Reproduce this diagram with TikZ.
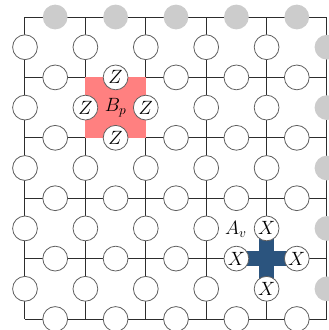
\documentclass[tikz,border=0pt]{standalone}
\usetikzlibrary{calc}
\definecolor{plaqred}{RGB}{255,128,128}
\definecolor{crossblue}{RGB}{43,84,126}
\definecolor{ghostgray}{RGB}{204,204,204}
\definecolor{circgray}{RGB}{95,95,95}
\definecolor{linegray}{RGB}{45,45,45}
\begin{document}
\begin{tikzpicture}[x=0.75pt,y=-0.75pt,
  every node/.style={font=\Large},
  qubit/.style={circle,draw=circgray,line width=0.6pt,fill=white,minimum size=18.6pt,inner sep=0pt},
  ghost/.style={circle,fill=ghostgray,minimum size=18.6pt,inner sep=0pt},
  latt/.style={draw=linegray,line width=0.75pt},
  plaq/.style={fill=plaqred},
  vstar/.style={draw=crossblue,line width=10.8pt}
]
\useasboundingbox (0,0) rectangle (329,330);
\clip (0,0) rectangle (329,330);
% vertices
\foreach \i in {0,...,5}{
  \foreach \j in {0,...,5}{
    \coordinate (v-\i-\j) at ({25+60.4*\i},{17+60.4*\j});
  }
}
% horizontal edge midpoints
\foreach \i in {0,...,4}{
  \foreach \j in {0,...,5}{
    \coordinate (h-\i-\j) at ({25+60.4*(\i+0.5)},{17+60.4*\j});
  }
}
% vertical edge midpoints
\foreach \i in {0,...,5}{
  \foreach \j in {0,...,4}{
    \coordinate (e-\i-\j) at ({25+60.4*\i},{17+60.4*(\j+0.5)});
  }
}
% lattice lines
\foreach \j in {0,...,5}{ \draw[latt] (v-0-\j) -- (v-5-\j); }
\foreach \i in {0,...,5}{ \draw[latt] (v-\i-0) -- (v-\i-5); }
% plaquette
\fill[plaq] (v-1-1) rectangle (v-2-2);
% star
\draw[vstar] (h-3-4) -- (h-4-4);
\draw[vstar] (e-4-3) -- (e-4-4);
% labels for special qubits
\expandafter\def\csname lab-h-1-1\endcsname{$Z$}
\expandafter\def\csname lab-h-1-2\endcsname{$Z$}
\expandafter\def\csname lab-e-1-1\endcsname{$Z$}
\expandafter\def\csname lab-e-2-1\endcsname{$Z$}
\expandafter\def\csname lab-e-4-3\endcsname{$X$}
\expandafter\def\csname lab-e-4-4\endcsname{$X$}
\expandafter\def\csname lab-h-3-4\endcsname{$X$}
\expandafter\def\csname lab-h-4-4\endcsname{$X$}
% ghost (identified) qubits
\foreach \i in {0,...,4}{ \node[ghost] (gt-\i) at (h-\i-0) {}; }
\foreach \j in {0,...,4}{ \node[ghost] (gr-\j) at (e-5-\j) {}; }
% qubits on horizontal edges
\foreach \i in {0,...,4}{
  \foreach \j in {1,...,5}{
    \node[qubit] (qh-\i-\j) at (h-\i-\j) {\csname lab-h-\i-\j\endcsname};
  }
}
% qubits on vertical edges
\foreach \i in {0,...,4}{
  \foreach \j in {0,...,4}{
    \node[qubit] (qe-\i-\j) at (e-\i-\j) {\csname lab-e-\i-\j\endcsname};
  }
}
% operator labels
\node (Bp) at ($(v-1-1)!0.5!(v-2-2)$) {$B_p$};
\node (Av) at (236,229) {$A_v$};
\end{tikzpicture}
\end{document}
